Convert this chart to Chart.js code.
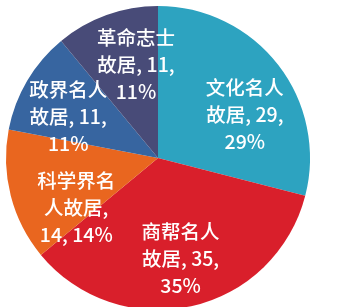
<!DOCTYPE html>
<html>
<head>
<meta charset="utf-8">
<script src="https://cdn.jsdelivr.net/npm/chart.js@4"></script>
<style>
    html, body { margin: 0; padding: 0; background: #fff; overflow: hidden; }
    #wrap { position: relative; width: 343px; height: 310px; }
</style>
</head>
<body>
<div id="wrap"><canvas id="chart-guju"></canvas></div>
<script>
// 各类故居数量
const categories = ["文化名人故居", "商帮名人故居", "科学界名人故居", "政界名人故居", "革命志士故居"];
const values = [29, 35, 14, 11, 11];
const percents = ["29%", "35%", "14%", "11%", "11%"];
// 标签换行（按原图）
const labelLines = [
    ["文化名人", "故居, 29,", "29%"],
    ["商帮名人", "故居, 35,", "35%"],
    ["科学界名", "人故居,", "14, 14%"],
    ["政界名人", "故居, 11,", "11%"],
    ["革命志士", "故居, 11,", "11%"],
];
const colors = ["#2DA3C0", "#D91F2B", "#E9661F", "#3765A0", "#484B78"];

(function () {
    // 标签位置：相对扇区中线的角度偏移(度)与半径比例
    const labelTweak = [
        { da: 11, r: 0.64 },
        { da: 0, r: 0.68 },
        { da: -17, r: 0.63 },
        { da: -6, r: 0.65 },
        { da: 6.5, r: 0.63 },
    ];

    const sliceLabels = {
        id: "sliceLabels",
        afterDatasetsDraw(chart) {
            const ctx = chart.ctx;
            const meta = chart.getDatasetMeta(0);
            ctx.save();
            ctx.fillStyle = "#fff";
            ctx.font = '500 19.5px "Noto Sans CJK SC", sans-serif';
            ctx.textAlign = "center";
            ctx.textBaseline = "middle";
            meta.data.forEach(function (arc, i) {
                const p = arc.getProps(["x", "y", "startAngle", "endAngle", "outerRadius"], true);
                const mid = (p.startAngle + p.endAngle) / 2 + labelTweak[i].da * Math.PI / 180;
                const rr = p.outerRadius * labelTweak[i].r;
                const cx = p.x + Math.cos(mid) * rr;
                const cy = p.y + Math.sin(mid) * rr;
                const lines = labelLines[i];
                const lh = 27;
                const top = cy - (lines.length - 1) * lh / 2;
                lines.forEach(function (t, k) {
                    ctx.fillText(t, cx, top + k * lh);
                });
            });
            ctx.restore();
        },
    };

    new Chart(document.getElementById("chart-guju").getContext("2d"), {
        type: "pie",
        data: {
            labels: categories,
            datasets: [
                {
                    data: values,
                    backgroundColor: colors,
                    borderWidth: 0,
                },
            ],
        },
        options: {
            responsive: true,
            maintainAspectRatio: false,
            animation: false,
            layout: {
                padding: { left: 6, right: 33, top: 6, bottom: 0 },
            },
            plugins: {
                legend: { display: false },
                tooltip: { enabled: false },
            },
        },
        plugins: [sliceLabels],
    });
})();
</script>
</body>
</html>
